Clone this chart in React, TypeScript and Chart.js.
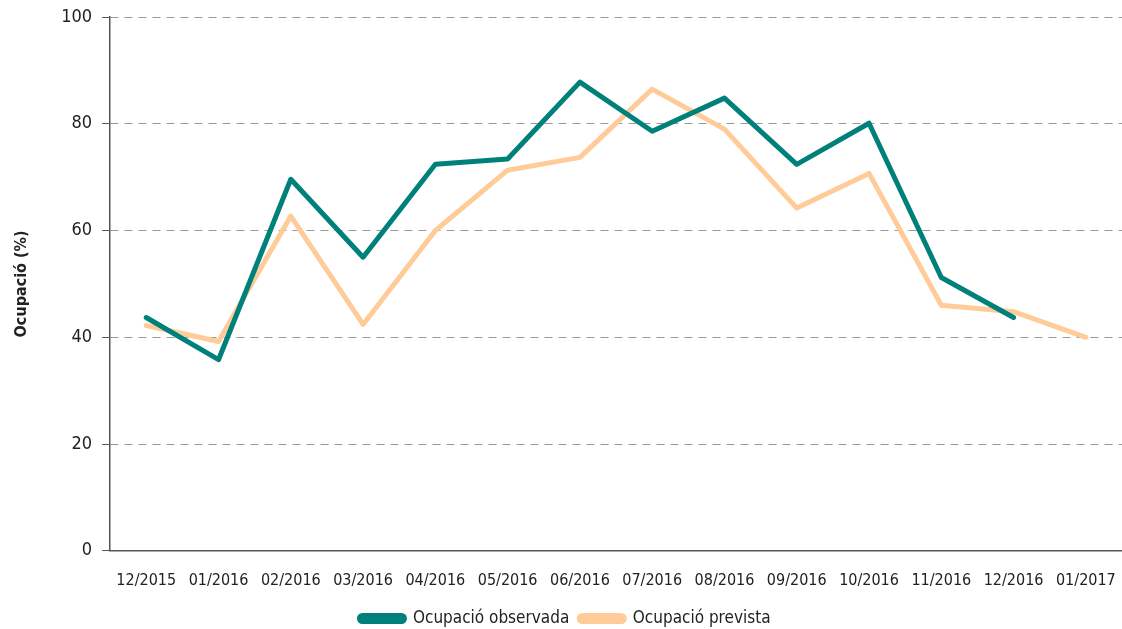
import React, { useEffect, useRef } from "react";
import { Chart, registerables } from "chart.js";

Chart.register(...registerables);

const categories = ["12/2015","01/2016","02/2016","03/2016","04/2016","05/2016","06/2016","07/2016","08/2016","09/2016","10/2016","11/2016","12/2016","01/2017"];
const observed = [43.7, 35.8, 69.6, 55.0, 72.4, 73.4, 87.8, 78.6, 84.8, 72.4, 80.1, 51.2, 43.7, null];
const forecast = [42.2, 39.2, 62.7, 42.4, 60.0, 71.3, 73.7, 86.5, 79.0, 64.2, 70.7, 46.0, 44.8, 40.0];

const FONT = "'Liberation Sans Narrow', 'Arial Narrow', 'DejaVu Sans Condensed', sans-serif";

export default function App() {
  const ref = useRef<HTMLCanvasElement | null>(null);
  useEffect(() => {
    document.body.style.margin = "0";
    const chart = new Chart(ref.current!, {
      type: "line",
      data: {
        labels: categories,
        datasets: [
          { label: "Ocupació observada", data: observed, borderColor: "#00807A", backgroundColor: "#00807A", borderWidth: 5, pointRadius: 0, tension: 0, borderCapStyle: "round", borderJoinStyle: "round" },
          { label: "Ocupació prevista", data: forecast, borderColor: "#FFCC99", backgroundColor: "#FFCC99", borderWidth: 5, pointRadius: 0, tension: 0, borderCapStyle: "round", borderJoinStyle: "round" },
        ],
      },
      options: {
        animation: false,
        responsive: false,
        layout: { padding: { left: 8, right: 0, top: 17, bottom: -8 } },
        plugins: {
          tooltip: { enabled: false },
          legend: {
            position: "bottom",
            labels: {
              font: { family: FONT, size: 17 },
              color: "#222",
              boxWidth: 45,
              boxHeight: 6,
              useBorderRadius: true,
              borderRadius: 3,
              padding: 10,
            },
          },
        },
        scales: {
          x: {
            offset: true,
            grid: { display: false },
            border: { display: true, color: "#555", width: 1.5 },
            ticks: { font: { family: FONT, size: 16 }, color: "#222", maxRotation: 0, padding: 12 },
            afterFit: (s: any) => {
              s.height = s.height - 2;
              s.paddingRight = 0;
            },
          },
          y: {
            min: 0,
            max: 100,
            ticks: { stepSize: 20, font: { family: FONT, size: 18 }, color: "#222", padding: 10 },
            grid: { color: "#999", tickColor: "#555", tickLength: 8, tickBorderDash: [], drawTicks: true },
            border: { display: true, color: "#555", width: 1.5, dash: [8, 6] },
            title: { display: true, text: "Ocupació (%)", font: { family: FONT, size: 16, weight: "bold" }, color: "#222", padding: { bottom: 20 } },
            afterFit: (s: any) => {
              s.paddingTop = 0;
              s.paddingBottom = 0;
            },
          },
        },
      },
    });
    return () => chart.destroy();
  }, []);
  return <canvas ref={ref} width={1122} height={629} style={{ display: "block" }} />;
}
